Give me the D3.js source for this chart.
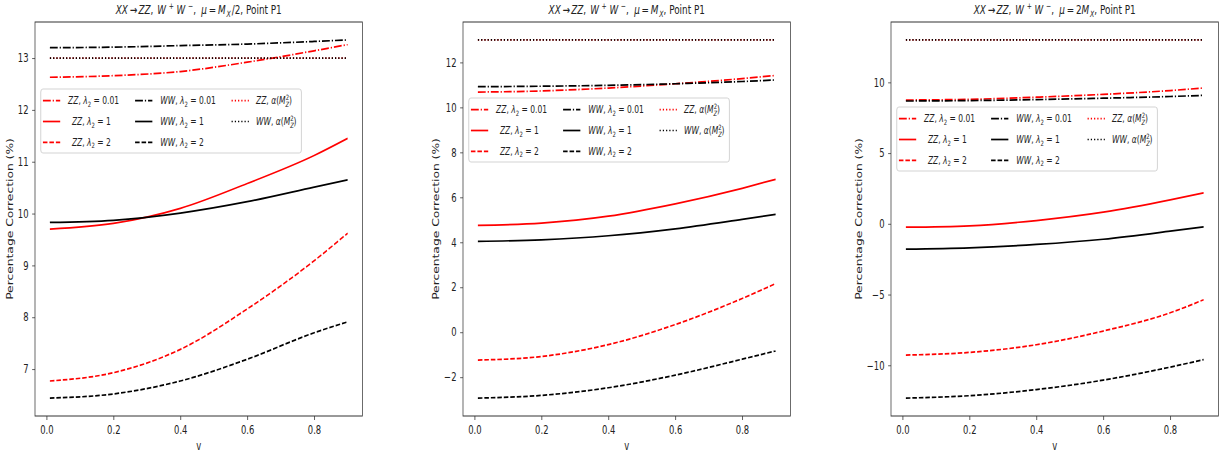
<!DOCTYPE html>
<html>
<head>
<meta charset="utf-8">
<script src="https://cdn.jsdelivr.net/npm/d3@7"></script>
<style>
  body { margin: 0; background: #fff; }
  text { font-family: "DejaVu Sans", sans-serif; fill: #222; }
</style>
</head>
<body>
<div id="chart"></div>
<script>
// x values (v) shared by every curve
var vPoints = [0.01, 0.2, 0.4, 0.6, 0.8, 0.9];
var xTicks = [0.0, 0.2, 0.4, 0.6, 0.8];

// panel 1 : mu = M_X/2
var p1ZZ001 = [12.63, 12.66, 12.74, 12.92, 13.14, 13.26];
var p1ZZ1   = [9.70, 9.81, 10.10, 10.58, 11.12, 11.45];
var p1ZZ2   = [6.77, 6.93, 7.38, 8.16, 9.09, 9.62];
var p1WW001 = [13.20, 13.21, 13.24, 13.27, 13.32, 13.35];
var p1WW1   = [9.83, 9.87, 10.01, 10.23, 10.51, 10.65];
var p1WW2   = [6.44, 6.52, 6.77, 7.19, 7.70, 7.91];
var p1ZZa   = [13, 13, 13, 13, 13, 13];
var p1WWa   = [13, 13, 13, 13, 13, 13];
var p1YTicks = [7, 8, 9, 10, 11, 12, 13];

// panel 2 : mu = M_X
var p2ZZ001 = [10.68, 10.73, 10.86, 11.05, 11.28, 11.42];
var p2ZZ1   = [4.75, 4.85, 5.16, 5.71, 6.40, 6.80];
var p2ZZ2   = [-1.24, -1.08, -0.55, 0.34, 1.50, 2.16];
var p2WW001 = [10.92, 10.94, 10.98, 11.05, 11.15, 11.22];
var p2WW1   = [4.04, 4.11, 4.29, 4.60, 5.02, 5.24];
var p2WW2   = [-2.93, -2.81, -2.47, -1.91, -1.20, -0.83];
var p2ZZa   = [13, 13, 13, 13, 13, 13];
var p2WWa   = [13, 13, 13, 13, 13, 13];
var p2YTicks = [-2, 0, 2, 4, 6, 8, 10, 12];

// panel 3 : mu = 2 M_X
var p3ZZ001 = [8.75, 8.80, 8.95, 9.15, 9.42, 9.60];
var p3ZZ1   = [-0.24, -0.14, 0.23, 0.82, 1.69, 2.19];
var p3ZZ2   = [-9.28, -9.09, -8.55, -7.58, -6.29, -5.37];
var p3WW001 = [8.68, 8.71, 8.78, 8.88, 9.00, 9.08];
var p3WW1   = [-1.79, -1.70, -1.46, -1.09, -0.52, -0.21];
var p3WW2   = [-12.32, -12.15, -11.72, -11.05, -10.13, -9.60];
var p3ZZa   = [13, 13, 13, 13, 13, 13];
var p3WWa   = [13, 13, 13, 13, 13, 13];
var p3YTicks = [-10, -5, 0, 5, 10];

// title pieces (i = italic, s = sub/sup, d = extra space in em)
var titleHead = [
  {t: "XX", i: 1}, {t: "→", d: 0.2}, {t: "ZZ", i: 1, d: 0.15}, {t: ","},
  {t: "W", i: 1, d: 0.45}, {t: "+", s: "sup", d: 0.3}, {t: "W", i: 1, d: 0.3}, {t: "\u2212", s: "sup", d: 0.3},
  {t: ","}, {t: "μ", i: 1, d: 0.6}, {t: "=", d: 0.2}
];
var muParts = [
  [{t: "M", i: 1, d: 0.2}, {t: "X", i: 1, s: "sub", d: 0.1}, {t: "/2", d: 0.12}],
  [{t: "M", i: 1, d: 0.2}, {t: "X", i: 1, s: "sub", d: 0.1}],
  [{t: "2", d: 0.2}, {t: "M", i: 1}, {t: "X", i: 1, s: "sub", d: 0.1}]
];
var titleTail = [{t: ", Point P1"}];

// legend labels, same order as the series
var seriesLabels = [
  [{t: "ZZ", i: 1}, {t: ", "}, {t: "λ", i: 1}, {t: "2", s: "sub"}, {t: " = 0.01"}],
  [{t: "\u2002ZZ", i: 1}, {t: ", "}, {t: "λ", i: 1}, {t: "2", s: "sub"}, {t: " = 1"}],
  [{t: "\u2002ZZ", i: 1}, {t: ", "}, {t: "λ", i: 1}, {t: "2", s: "sub"}, {t: " = 2"}],
  [{t: "WW", i: 1}, {t: ", "}, {t: "λ", i: 1}, {t: "2", s: "sub"}, {t: " = 0.01"}],
  [{t: "WW", i: 1}, {t: ", "}, {t: "λ", i: 1}, {t: "2", s: "sub"}, {t: " = 1"}],
  [{t: "WW", i: 1}, {t: ", "}, {t: "λ", i: 1}, {t: "2", s: "sub"}, {t: " = 2"}],
  [{t: "ZZ", i: 1}, {t: ", "}, {t: "α", i: 1}, {t: "("}, {t: "M", i: 1}, {t: "Z", i: 1, s: "sub"}, {t: "2", s: "supback"}, {t: ")"}],
  [{t: "WW", i: 1}, {t: ", "}, {t: "α", i: 1}, {t: "("}, {t: "M", i: 1}, {t: "Z", i: 1, s: "sub"}, {t: "2", s: "supback"}, {t: ")"}]
];

var panels = [
  {series: [p1ZZ001, p1ZZ1, p1ZZ2, p1WW001, p1WW1, p1WW2, p1ZZa, p1WWa], yTicks: p1YTicks, legendTop: 67},
  {series: [p2ZZ001, p2ZZ1, p2ZZ2, p2WW001, p2WW1, p2WW2, p2ZZa, p2WWa], yTicks: p2YTicks, legendTop: 76},
  {series: [p3ZZ001, p3ZZ1, p3ZZ2, p3WW001, p3WW1, p3WW2, p3ZZa, p3WWa], yTicks: p3YTicks, legendTop: 85}
];

// line styles for the 8 series
var lw = 1.7;
var dashDot = "10.9,2.7,1.7,2.7", dashed = "6.3,2.7", dotted = "1.7,2.8";
var seriesColor = ["red", "red", "red", "black", "black", "black", "red", "black"];
var seriesDash = [dashDot, null, dashed, dashDot, null, dashed, dotted, dotted];

// the picture is squeezed sideways, so draw wide and scale x
var sx = 0.72;
var svgWidth = 1219, svgHeight = 455;
var margin = {top: 22, bottom: 39};
var panelLeft0 = 35 / sx, panelStep = 428 / sx, panelW = 327.5 / sx;
var panelH = svgHeight - margin.top - margin.bottom;

var svg = d3.select("#chart").append("svg")
  .attr("width", svgWidth)
  .attr("height", svgHeight);

var root = svg.append("g").attr("transform", "scale(" + sx + ",1)");

function mathText(sel, tokens, size) {
  var shift = 0;
  tokens.forEach(function(tok) {
    var ts = sel.append("tspan").text(tok.t);
    var target = 0, fs = size, dx = (tok.d || 0) * size;
    if (tok.s === "sub") { target = 0.22 * size; fs = size * 0.7; }
    if (tok.s === "supback") { target = -0.45 * size; fs = size * 0.7; dx -= 0.47 * size; }
    if (tok.s === "sup") { target = -0.42 * size; fs = size * 0.7; }
    if (dx) ts.attr("dx", dx);
    if (target !== shift) ts.attr("dy", target - shift);
    shift = target;
    ts.style("font-size", fs + "px");
    if (tok.i) ts.style("font-style", "italic");
  });
}

function fmtTick(d) {
  return d < 0 ? "\u2212" + Math.abs(d) : String(d);
}

panels.forEach(function(p, k) {
  var g = root.append("g")
    .attr("transform", "translate(" + (panelLeft0 + k * panelStep) + "," + margin.top + ")");

  var xExt = d3.extent(vPoints);
  var xPad = (xExt[1] - xExt[0]) * 0.05;
  var x = d3.scaleLinear().domain([xExt[0] - xPad, xExt[1] + xPad]).range([0, panelW]);

  var yExt = d3.extent(d3.merge(p.series));
  var yPad = (yExt[1] - yExt[0]) * 0.05;
  var y = d3.scaleLinear().domain([yExt[0] - yPad, yExt[1] + yPad]).range([panelH, 0]);

  var line = d3.line()
    .x(function(d, i) { return x(vPoints[i]); })
    .y(function(d) { return y(d); })
    .curve(d3.curveMonotoneX);

  p.series.forEach(function(vals, i) {
    g.append("path")
      .datum(vals)
      .attr("d", line)
      .attr("fill", "none")
      .attr("stroke", seriesColor[i])
      .attr("stroke-width", lw)
      .attr("stroke-dasharray", seriesDash[i]);
  });

  // axes
  var xAxis = g.append("g")
    .attr("transform", "translate(0," + panelH + ")")
    .call(d3.axisBottom(x).tickValues(xTicks).tickFormat(d3.format(".1f")).tickSize(4).tickPadding(6));
  var yAxis = g.append("g")
    .call(d3.axisLeft(y).tickValues(p.yTicks).tickFormat(fmtTick).tickSize(4).tickPadding(5));
  [xAxis, yAxis].forEach(function(a) {
    a.select(".domain").remove();
    a.selectAll("line").attr("stroke", "#333").attr("stroke-width", 0.9);
    a.selectAll("text").style("font-size", "11.7px").style("font-family", "DejaVu Sans").attr("fill", "#222");
  });

  g.append("rect")
    .attr("width", panelW).attr("height", panelH)
    .attr("fill", "none").attr("stroke", "#333").attr("stroke-width", 1);

  // title
  var title = g.append("text")
    .attr("x", panelW / 2).attr("y", -7.7)
    .attr("text-anchor", "middle");
  mathText(title, titleHead.concat(muParts[k]).concat(titleTail), 12.3);

  // axis labels
  g.append("text")
    .attr("x", panelW / 2).attr("y", panelH + 34)
    .attr("text-anchor", "middle")
    .style("font-size", "11.7px")
    .text("v");

  var tb = yAxis.node().getBBox();
  g.append("text")
    .attr("transform", "translate(" + (tb.x - 7) + "," + (panelH / 2) + ") rotate(-90)")
    .attr("text-anchor", "middle")
    .style("font-size", "12.3px")
    .text("Percentage Correction (%)");

  // legend
  var lg = g.append("g").attr("transform", "translate(8," + p.legendTop + ")");
  lg.append("rect")
    .attr("width", 362).attr("height", 64).attr("rx", 3)
    .attr("fill", "white").attr("fill-opacity", 0.8)
    .attr("stroke", "#cccccc").attr("stroke-width", 1);
  var handleX = [3, 131, 265], textX = [38, 166, 299];
  seriesLabels.forEach(function(lab, i) {
    var col = Math.floor(i / 3), row = i % 3;
    var cy = 11.7 + row * 20.8;
    lg.append("line")
      .attr("x1", handleX[col]).attr("x2", handleX[col] + 24)
      .attr("y1", cy).attr("y2", cy)
      .attr("stroke", seriesColor[i]).attr("stroke-width", lw)
      .attr("stroke-dasharray", seriesDash[i]);
    var t = lg.append("text").attr("x", textX[col]).attr("y", cy + 3.8);
    mathText(t, lab, 10.5);
  });
});
</script>
</body>
</html>
